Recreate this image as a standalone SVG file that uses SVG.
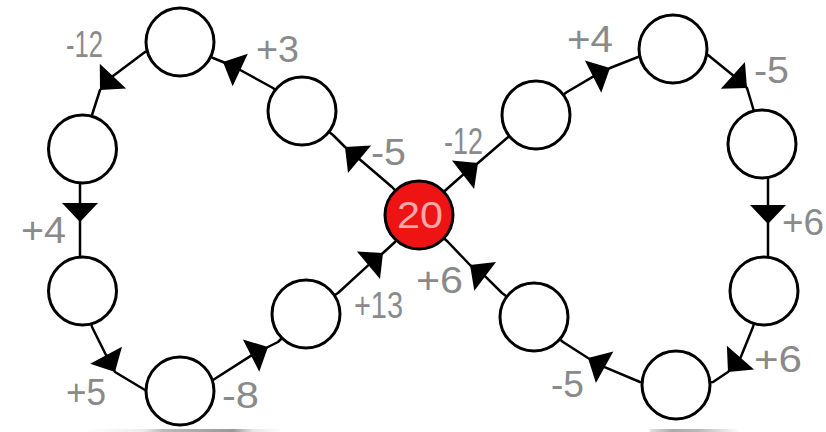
<svg xmlns="http://www.w3.org/2000/svg" xmlns:xlink="http://www.w3.org/1999/xlink" width="826" height="432" viewBox="0 0 826 432">
<style>
.node{fill:#fff;stroke:#000;stroke-width:3}
.start{fill:#ee1414;stroke:#000;stroke-width:3}
.conn{fill:none;stroke:#000;stroke-width:2.5;stroke-linejoin:round}
.lbl{font-family:"Liberation Sans",Arial,sans-serif;font-size:36px;fill:#8a8a8a}
.val{font-family:"Liberation Sans",Arial,sans-serif;font-size:36px;fill:#f5a8a8}
</style>
<defs>
<path id="ah" d="M0,0 L-19,-18 L-19,18 Z" fill="#000"/>
<linearGradient id="shL" x1="0" x2="1" y1="0" y2="0">
<stop offset="0" stop-color="#fff"/><stop offset="0.3" stop-color="#ececec"/><stop offset="0.4" stop-color="#bbb"/><stop offset="0.75" stop-color="#999"/><stop offset="0.85" stop-color="#e6e6e6"/><stop offset="1" stop-color="#fff"/>
</linearGradient>
<linearGradient id="shR" x1="0" x2="1" y1="0" y2="0">
<stop offset="0" stop-color="#e0e0e0"/><stop offset="0.25" stop-color="#aaa"/><stop offset="0.55" stop-color="#bbb"/><stop offset="1" stop-color="#fff"/>
</linearGradient>
</defs>
<rect x="83" y="429" width="200" height="3" fill="url(#shL)"/>
<rect x="650" y="429" width="90" height="3" fill="url(#shR)"/>
<g id="connectors">
<path class="conn" d="M419,215 L392,187 L359.6,159.2 L345,147 L333,135 L302,111"/>
<path class="conn" d="M302,111 L273,88 L240.2,70 L223,62 L213,58 L180,42"/>
<path class="conn" d="M180,42 L145,52 L113,76.1 L100,90 L92,115 L82.5,149"/>
<path class="conn" d="M80,149 L80,291"/>
<path class="conn" d="M82.5,291 L92,327 L106.1,355.2 L115,372 L145,390 L180,391"/>
<path class="conn" d="M180,391 L213,380 L251.1,355.6 L268,347 L278,342 L306,314"/>
<path class="conn" d="M306,314 L338,293 L368.4,265.2 L383,253 L395,242 L419,215"/>
<path class="conn" d="M419,215 L448,188 L463,174.7 L478,163 L507,138 L536,115"/>
<path class="conn" d="M536,115 L567,92 L593.1,76.6 L610,68 L638,57 L673,49"/>
<path class="conn" d="M673,49 L708,55 L732.9,75.3 L747,88 L753,108 L762,144"/>
<path class="conn" d="M768,144 L768,291"/>
<path class="conn" d="M764,291 L753,327 L740.5,357.7 L728,372 L713,382 L676,385"/>
<path class="conn" d="M676,385 L640,382 L604.6,367.2 L588,358 L563,342 L534,317"/>
<path class="conn" d="M534,317 L502,293 L485.2,276.4 L470,265 L448,242 L419,215"/>
<use xlink:href="#ah" href="#ah" transform="translate(345,147) rotate(-140)"/>
<use xlink:href="#ah" href="#ah" transform="translate(223,62) rotate(-155)"/>
<use xlink:href="#ah" href="#ah" transform="translate(100,90) rotate(133)"/>
<use xlink:href="#ah" href="#ah" transform="translate(80,222) rotate(90)"/>
<use xlink:href="#ah" href="#ah" transform="translate(115,372) rotate(62)"/>
<use xlink:href="#ah" href="#ah" transform="translate(268,347) rotate(-27)"/>
<use xlink:href="#ah" href="#ah" transform="translate(383,253) rotate(-40)"/>
<use xlink:href="#ah" href="#ah" transform="translate(478,163) rotate(-38)"/>
<use xlink:href="#ah" href="#ah" transform="translate(610,68) rotate(-27)"/>
<use xlink:href="#ah" href="#ah" transform="translate(747,88) rotate(42)"/>
<use xlink:href="#ah" href="#ah" transform="translate(768,224) rotate(90)"/>
<use xlink:href="#ah" href="#ah" transform="translate(728,372) rotate(131)"/>
<use xlink:href="#ah" href="#ah" transform="translate(588,358) rotate(-151)"/>
<use xlink:href="#ah" href="#ah" transform="translate(470,265) rotate(-143)"/>
</g>
<g id="labels">
<text class="lbl" x="66" y="57" textLength="37" lengthAdjust="spacingAndGlyphs">-12</text>
<text class="lbl" x="256" y="62" textLength="43" lengthAdjust="spacingAndGlyphs">+3</text>
<text class="lbl" x="371" y="165" textLength="35" lengthAdjust="spacingAndGlyphs">-5</text>
<text class="lbl" x="21" y="243" textLength="45" lengthAdjust="spacingAndGlyphs">+4</text>
<text class="lbl" x="66" y="405" textLength="40" lengthAdjust="spacingAndGlyphs">+5</text>
<text class="lbl" x="222" y="408" textLength="37" lengthAdjust="spacingAndGlyphs">-8</text>
<text class="lbl" x="354" y="318" textLength="49" lengthAdjust="spacingAndGlyphs">+13</text>
<text class="lbl" x="444" y="154" textLength="39" lengthAdjust="spacingAndGlyphs">-12</text>
<text class="lbl" x="567" y="52" textLength="46" lengthAdjust="spacingAndGlyphs">+4</text>
<text class="lbl" x="754" y="83" textLength="35" lengthAdjust="spacingAndGlyphs">-5</text>
<text class="lbl" x="782" y="235" textLength="42" lengthAdjust="spacingAndGlyphs">+6</text>
<text class="lbl" x="754" y="372" textLength="48" lengthAdjust="spacingAndGlyphs">+6</text>
<text class="lbl" x="551" y="397" textLength="33" lengthAdjust="spacingAndGlyphs">-5</text>
<text class="lbl" x="416" y="293" textLength="47" lengthAdjust="spacingAndGlyphs">+6</text>
</g>
<g id="n-start"><circle class="start" cx="419" cy="215" r="34"/><text class="val" x="397" y="228" textLength="46" lengthAdjust="spacingAndGlyphs">20</text></g>
<g id="n-l1"><circle class="node" cx="302" cy="111" r="34"/></g>
<g id="n-l2"><circle class="node" cx="180" cy="42" r="34"/></g>
<g id="n-l3"><circle class="node" cx="82.5" cy="149" r="34"/></g>
<g id="n-l4"><circle class="node" cx="82.5" cy="291" r="34"/></g>
<g id="n-l5"><circle class="node" cx="180" cy="391" r="34"/></g>
<g id="n-l6"><circle class="node" cx="306" cy="314" r="34"/></g>
<g id="n-r1"><circle class="node" cx="536" cy="115" r="34"/></g>
<g id="n-r2"><circle class="node" cx="673" cy="49" r="34"/></g>
<g id="n-r3"><circle class="node" cx="762" cy="144" r="34"/></g>
<g id="n-r4"><circle class="node" cx="764" cy="291" r="34"/></g>
<g id="n-r5"><circle class="node" cx="676" cy="385" r="34"/></g>
<g id="n-r6"><circle class="node" cx="534" cy="317" r="34"/></g>
</svg>
